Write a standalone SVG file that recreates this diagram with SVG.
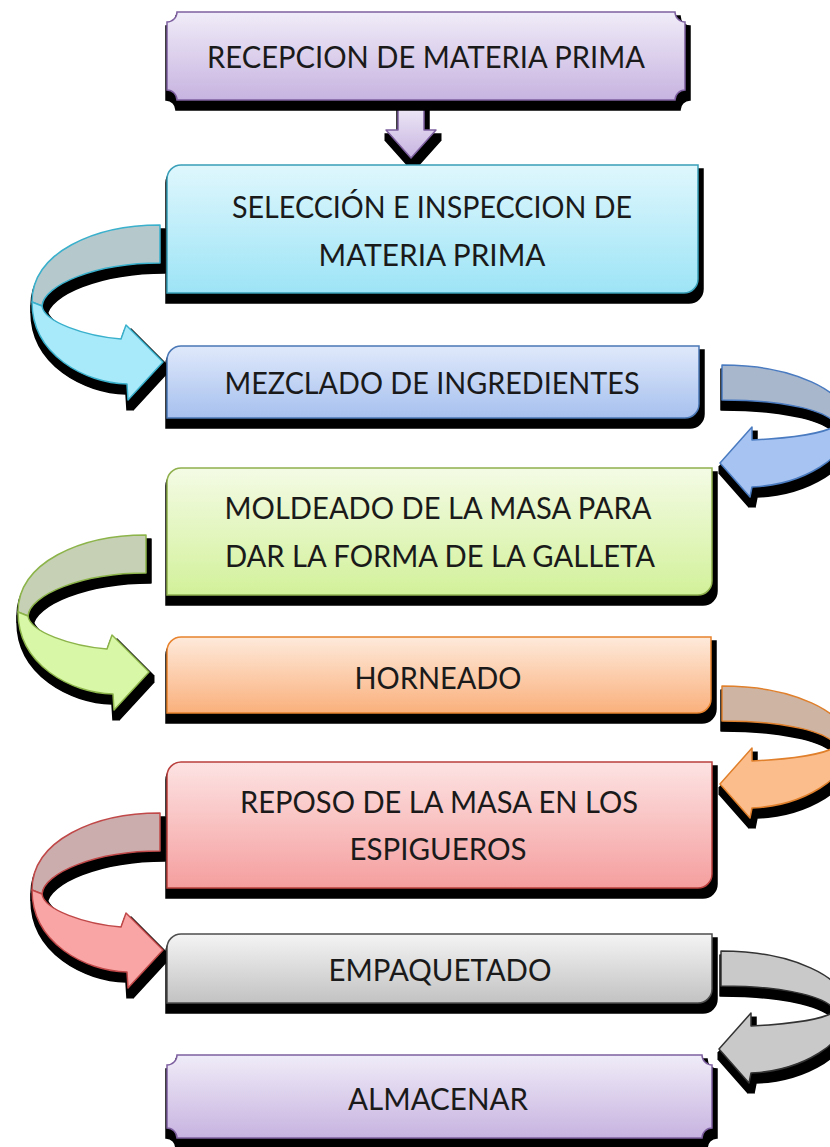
<svg xmlns="http://www.w3.org/2000/svg" width="830" height="1147" viewBox="0 0 830 1147">
<style>
.t{font-family:Lato,"Open Sans","Liberation Sans",sans-serif;font-size:30px;fill:#1a1a1a;text-anchor:middle}
.bx{stroke-width:1.5}
.ar path{stroke-width:1.5;stroke-linejoin:round}
</style>
<defs>
<filter id="sh" x="-20%" y="-20%" width="150%" height="150%" color-interpolation-filters="sRGB">
<feMorphology in="SourceAlpha" operator="dilate" radius="2.5" result="d"/>
<feOffset in="d" dx="2" dy="7" result="o"/>
<feGaussianBlur in="o" stdDeviation="0.7" result="b"/>
<feMerge><feMergeNode in="b"/><feMergeNode in="SourceGraphic"/></feMerge>
</filter>
<linearGradient id="gP" x1="0" y1="0" x2="0" y2="1"><stop offset="0" stop-color="#f0ecf8"/><stop offset="1" stop-color="#c7b3e0"/></linearGradient>
<linearGradient id="gC" x1="0" y1="0" x2="0" y2="1"><stop offset="0" stop-color="#dff7fd"/><stop offset="1" stop-color="#9de4f6"/></linearGradient>
<linearGradient id="gB" x1="0" y1="0" x2="0" y2="1"><stop offset="0" stop-color="#e0e9fb"/><stop offset="1" stop-color="#a6c0ee"/></linearGradient>
<linearGradient id="gG" x1="0" y1="0" x2="0" y2="1"><stop offset="0" stop-color="#f4fbe5"/><stop offset="1" stop-color="#d2f19a"/></linearGradient>
<linearGradient id="gO" x1="0" y1="0" x2="0" y2="1"><stop offset="0" stop-color="#feeadb"/><stop offset="1" stop-color="#fab07c"/></linearGradient>
<linearGradient id="gR" x1="0" y1="0" x2="0" y2="1"><stop offset="0" stop-color="#fde3e3"/><stop offset="1" stop-color="#f59e9e"/></linearGradient>
<linearGradient id="gY" x1="0" y1="0" x2="0" y2="1"><stop offset="0" stop-color="#f4f4f4"/><stop offset="1" stop-color="#c2c2c2"/></linearGradient>
</defs>
<rect width="830" height="1147" fill="#ffffff"/>

<g id="connectors">
<g id="c1" class="ar" filter="url(#sh)">
<path d="M386,130 H398 V104 H424 V130 H436 L411,158 Z" fill="url(#gP)" stroke="#7e60a0"/>
</g>
<g id="c2" class="ar" filter="url(#sh)" transform="translate(160,225)">
<path d="M0,0 C-65,0 -128,27 -128,77 L-118,81 C-116,60 -65,38 0,38 Z" fill="#b5c9cd" stroke="#3ab0cc"/>
<path d="M-128,77 C-128,130 -75,158 -33,159 L-32,175 L3,137 L-34,100 L-39,114 C-75,111 -116,97 -118,81 Z" fill="#a8eafa" stroke="#3ab0cc"/>
</g>
<g id="c3" class="ar" filter="url(#sh)" transform="translate(722,365)">
<path d="M0,0 C68,0 128,25 128,60 L114,60 C108,47 68,35 0,35 Z" fill="#a9b7cd" stroke="#4a7bc0"/>
<path d="M128,60 C128,92 80,120 30,122 L28,132 L-2,98 L30,62 L30,75 C70,73 105,68 114,60 Z" fill="#a6c3f2" stroke="#4a7bc0"/>
</g>
<g id="c4" class="ar" filter="url(#sh)" transform="translate(146,535)">
<path d="M0,0 C-65,0 -128,27 -128,77 L-118,81 C-116,60 -65,38 0,38 Z" fill="#c5d0b4" stroke="#8cb44a"/>
<path d="M-128,77 C-128,130 -75,158 -33,159 L-32,175 L3,137 L-34,100 L-39,114 C-75,111 -116,97 -118,81 Z" fill="#d8f7a7" stroke="#8cb44a"/>
</g>
<g id="c5" class="ar" filter="url(#sh)" transform="translate(722,686)">
<path d="M0,0 C68,0 128,25 128,60 L114,60 C108,47 68,35 0,35 Z" fill="#cdb4a3" stroke="#e0802c"/>
<path d="M128,60 C128,92 80,120 30,122 L28,132 L-2,98 L30,62 L30,75 C70,73 105,68 114,60 Z" fill="#fbbd8c" stroke="#e0802c"/>
</g>
<g id="c6" class="ar" filter="url(#sh)" transform="translate(160,813)">
<path d="M0,0 C-65,0 -128,27 -128,77 L-118,81 C-116,60 -65,38 0,38 Z" fill="#ccadad" stroke="#c04848"/>
<path d="M-128,77 C-128,130 -75,158 -33,159 L-32,175 L3,137 L-34,100 L-39,114 C-75,111 -116,97 -118,81 Z" fill="#f9a5a5" stroke="#c04848"/>
</g>
<g id="c7" class="ar" filter="url(#sh)" transform="translate(721,951)">
<path d="M0,0 C68,0 128,25 128,60 L114,60 C108,47 68,35 0,35 Z" fill="#c9c9c9" stroke="#333333"/>
<path d="M128,60 C128,92 80,120 30,122 L28,132 L-2,98 L30,62 L30,75 C70,73 105,68 114,60 Z" fill="#c9c9c9" stroke="#333333"/>
</g>
</g>

<g id="n1">
<path class="bx" filter="url(#sh)" d="M177,12 H675 A10 10 0 0 0 685,22 V90 A10 10 0 0 0 675,100 H177 A10 10 0 0 0 167,90 V22 A10 10 0 0 0 177,12 Z" fill="url(#gP)" stroke="#7e60a0"/>
<text class="t" x="426" y="68" textLength="438" lengthAdjust="spacingAndGlyphs">RECEPCION DE MATERIA PRIMA</text>
</g>
<g id="n2">
<path class="bx" filter="url(#sh)" d="M181,165 H698 V279 A14 14 0 0 1 684,293 H167 V179 A14 14 0 0 1 181,165 Z" fill="url(#gC)" stroke="#3a9fb8"/>
<text class="t" x="432" y="218" textLength="400" lengthAdjust="spacingAndGlyphs">SELECCIÓN E INSPECCION DE</text>
<text class="t" x="432" y="266" textLength="227" lengthAdjust="spacingAndGlyphs">MATERIA PRIMA</text>
</g>
<g id="n3">
<path class="bx" filter="url(#sh)" d="M181,346 H699 V404 A14 14 0 0 1 685,418 H167 V360 A14 14 0 0 1 181,346 Z" fill="url(#gB)" stroke="#4a77b5"/>
<text class="t" x="432" y="394" textLength="415" lengthAdjust="spacingAndGlyphs">MEZCLADO DE INGREDIENTES</text>
</g>
<g id="n4">
<path class="bx" filter="url(#sh)" d="M181,468 H712 V581 A14 14 0 0 1 698,595 H167 V482 A14 14 0 0 1 181,468 Z" fill="url(#gG)" stroke="#8fb04d"/>
<text class="t" x="438" y="519" textLength="427" lengthAdjust="spacingAndGlyphs">MOLDEADO DE LA MASA PARA</text>
<text class="t" x="440" y="567" textLength="430" lengthAdjust="spacingAndGlyphs">DAR LA FORMA DE LA GALLETA</text>
</g>
<g id="n5">
<path class="bx" filter="url(#sh)" d="M181,637 H711 V699 A14 14 0 0 1 697,713 H167 V651 A14 14 0 0 1 181,637 Z" fill="url(#gO)" stroke="#e8832e"/>
<text class="t" x="438" y="689" textLength="167" lengthAdjust="spacingAndGlyphs">HORNEADO</text>
</g>
<g id="n6">
<path class="bx" filter="url(#sh)" d="M181,762 H712 V874 A14 14 0 0 1 698,888 H167 V776 A14 14 0 0 1 181,762 Z" fill="url(#gR)" stroke="#b9403d"/>
<text class="t" x="439" y="813" textLength="398" lengthAdjust="spacingAndGlyphs">REPOSO DE LA MASA EN LOS</text>
<text class="t" x="438" y="860" textLength="177" lengthAdjust="spacingAndGlyphs">ESPIGUEROS</text>
</g>
<g id="n7">
<path class="bx" filter="url(#sh)" d="M181,934 H712 V989 A14 14 0 0 1 698,1003 H167 V948 A14 14 0 0 1 181,934 Z" fill="url(#gY)" stroke="#4d4d4d"/>
<text class="t" x="440" y="981" textLength="223" lengthAdjust="spacingAndGlyphs">EMPAQUETADO</text>
</g>
<g id="n8">
<path class="bx" filter="url(#sh)" d="M177,1055 H702 A10 10 0 0 0 712,1065 V1128 A10 10 0 0 0 702,1138 H177 A10 10 0 0 0 167,1128 V1065 A10 10 0 0 0 177,1055 Z" fill="url(#gP)" stroke="#7e60a0"/>
<text class="t" x="438" y="1110" textLength="180" lengthAdjust="spacingAndGlyphs">ALMACENAR</text>
</g>
</svg>
